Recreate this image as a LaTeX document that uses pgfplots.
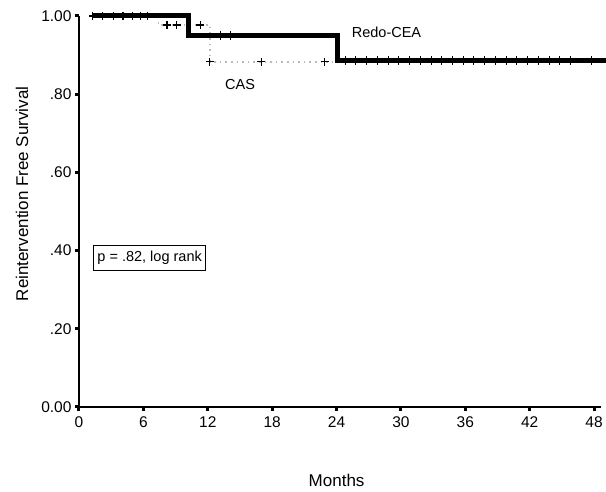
\documentclass[border=0pt]{standalone}
\usepackage{pgfplots}
\pgfplotsset{compat=1.18}
\usepackage{fontspec}
\setmainfont{Liberation Sans}
\begin{document}
\begin{tikzpicture}
\begin{axis}[
  scale only axis, width=521.5pt, height=391pt,
  xmin=0, xmax=48.6, ymin=0, ymax=1,
  axis lines*=left, clip=false,
  axis line style={line width=1.2pt, black},
  xtick={0,6,...,48},
  ytick={0,0.2,0.4,0.6,0.8,1},
  yticklabels={0.00,.20,.40,.60,.80,1.00},
  tick align=outside, major tick length=4pt,
  every major tick/.append style={line width=3pt, black},
  /pgf/number format/assume math mode=true,
  tick label style={font=\fontsize{15.5}{18}\selectfont},
  xticklabel style={yshift=-2pt},
  xlabel={Months}, ylabel={Reintervention Free Survival},
  label style={font=\fontsize{17}{20}\selectfont},
  xlabel style={at={(axis description cs:0.494,-0.187)}, anchor=center},
  ylabel style={at={(axis description cs:-0.109,0.545)}, anchor=center},
]
% CAS (dotted grey)
\addplot[color=gray!55, line width=1.6pt, dash pattern=on 1.6pt off 4pt] coordinates {
 (1.2,1.0) (7.4,1.0) (7.4,0.977) (12.2,0.977) (12.2,0.883) (49.2,0.883)};
% Redo-CEA (thick black)
\addplot[black, line width=5pt] coordinates {
 (1.2,1.0) (10.2,1.0) (10.2,0.951) (24.1,0.951) (24.1,0.887) (49.2,0.887)};
% Redo-CEA censor ticks
\addplot[only marks, mark=|, mark size=4.5pt, black, mark options={line width=0.9pt}] coordinates {
 (13.2,0.951) (14.1,0.951)
 (24.8,0.885) (25.8,0.885) (26.8,0.885) (27.8,0.885) (28.8,0.885) (29.8,0.885) (30.8,0.885) (31.8,0.885) (32.8,0.885) (33.8,0.885) (34.8,0.885) (35.8,0.885) (36.8,0.885) (37.8,0.885) (38.8,0.885) (39.8,0.885) (40.8,0.885) (41.8,0.885) (42.8,0.885) (43.8,0.885) (44.8,0.885) (45.8,0.885) (47.8,0.885)};
% CAS censor crosses
\addplot[only marks, mark=+, mark size=4pt, black, mark options={line width=1.1pt}] coordinates {
 (1.3,1.0) (2.2,1.0) (3.2,1.0) (4.1,1.0) (5.0,1.0) (5.7,1.0) (6.4,1.0)
 (8.2,0.977) (9.1,0.977) (11.3,0.977)
 (12.2,0.883) (17.0,0.883) (22.9,0.883)};
\node[anchor=west, font=\fontsize{14.5}{17}\selectfont] at (axis cs:25.1,0.957) {Redo-CEA};
\node[anchor=west, font=\fontsize{14.5}{17}\selectfont] at (axis cs:13.3,0.824) {CAS};
\node[anchor=west, draw, line width=1pt, inner xsep=4pt, inner ysep=6pt, font=\fontsize{14.5}{17}\selectfont] at (axis cs:1.3,0.381) {p = .82, log rank};
\end{axis}
\pgfresetboundingbox
\path[use as bounding box] (-79pt,-85pt) rectangle (527pt,407pt);
\end{tikzpicture}
\end{document}
